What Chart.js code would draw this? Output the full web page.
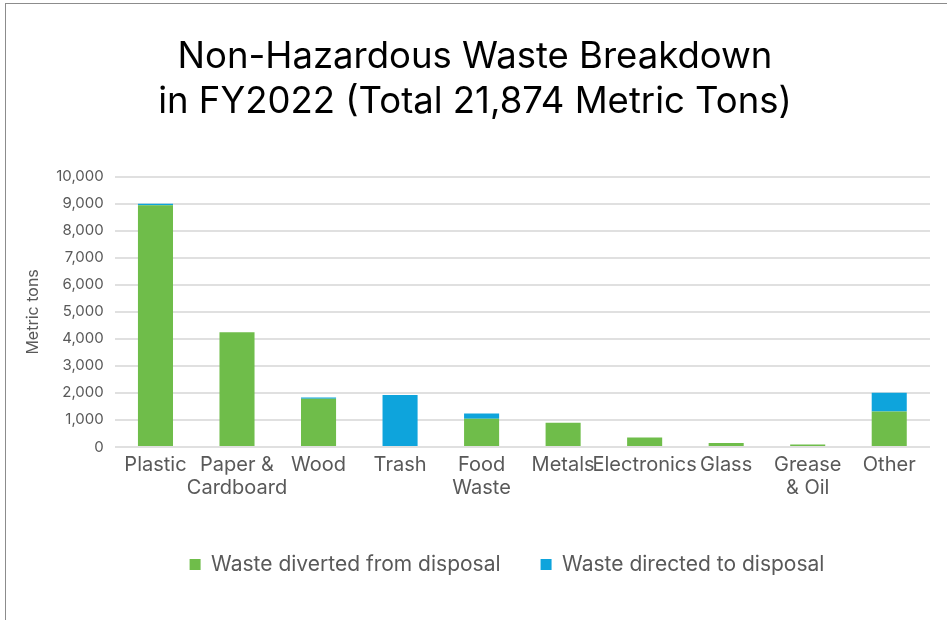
<!DOCTYPE html>
<html>
<head>
<meta charset="utf-8">
<script src="https://cdn.jsdelivr.net/npm/chart.js@4.4.0/dist/chart.umd.min.js"></script>
<style>
	body { margin: 0; background: #fff; }
	#wrap { position: relative; width: 947px; height: 620px; }
	#frame { position: absolute; left: 5px; top: 3px; right: 0; bottom: 0; border-left: 1px solid #8c8c8c; border-top: 1px solid #8c8c8c; pointer-events: none; }
</style>
</head>
<body>
<div id="wrap">
	<canvas id="chart-area" width="947" height="620"></canvas>
	<div id="frame"></div>
</div>
<script>
	// values (metric tons)
	var categories = ['Plastic', ['Paper &', 'Cardboard'], 'Wood', 'Trash', ['Food', 'Waste'], 'Metals', 'Electronics', 'Glass', ['Grease', '& Oil'], 'Other'];
	var diverted = [8950, 4250, 1790, 0, 1050, 900, 350, 150, 90, 1310];
	var directed = [50, 0, 40, 1920, 190, 0, 0, 0, 0, 700];
	var seriesNames = ['Waste diverted from disposal', 'Waste directed to disposal'];
	var titleLines = ['Non-Hazardous Waste Breakdown', 'in FY2022 (Total 21,874 Metric Tons)'];

	var green = '#6fbd4a';
	var blue = '#0ea4dc';
	var grey = '#595959';
	var font = "Inter, 'Liberation Sans', Arial, sans-serif";

	// the legend sits a bit right of the canvas centre in the original
	var legendShift = {
		id: 'legendShift',
		afterLayout: function(chart) {
			chart.legend.left += 32;
			chart.legend.right += 32;
		}
	};

	var config = {
		type: 'bar',
		data: {
			labels: categories,
			datasets: [{
				label: seriesNames[0],
				data: diverted,
				backgroundColor: green,
				borderWidth: 0
			}, {
				label: seriesNames[1],
				data: directed,
				backgroundColor: blue,
				borderWidth: 0
			}]
		},
		options: {
			responsive: false,
			animation: false,
			layout: {
				padding: { left: 20, right: 17, top: 0, bottom: 35 }
			},
			datasets: {
				bar: { barPercentage: 0.43, categoryPercentage: 1 }
			},
			plugins: {
				title: {
					display: true,
					text: titleLines,
					color: '#000',
					font: { family: font, size: 36.5, weight: 'normal', lineHeight: 1.23 },
					padding: { top: 35, bottom: 52 }
				},
				legend: {
					position: 'bottom',
					labels: {
						color: grey,
						font: { family: font, size: 21 },
						boxWidth: 11,
						boxHeight: 11,
						padding: 40
					}
				},
				tooltip: { enabled: false }
			},
			scales: {
				x: {
					stacked: true,
					grid: { display: false, drawTicks: false },
					border: { display: false },
					ticks: {
						color: grey,
						font: { family: font, size: 20, lineHeight: 1.15 },
						padding: 6,
						maxRotation: 0,
						autoSkip: false
					},
					afterFit: function(axis) {
						axis.height = 67;
					}
				},
				y: {
					stacked: true,
					min: 0,
					max: 10000,
					grid: { color: '#e0e0e0', lineWidth: 2, drawTicks: false },
					border: { display: false },
					ticks: {
						stepSize: 1000,
						color: grey,
						padding: 11,
						font: { family: font, size: 15 },
						callback: function(v) { return v.toLocaleString('en-US'); }
					},
					title: {
						display: true,
						text: 'Metric tons',
						color: grey,
						font: { family: font, size: 16 },
						padding: { top: 4, bottom: 2 }
					}
				}
			}
		},
		plugins: [legendShift]
	};

	var ctx = document.getElementById('chart-area').getContext('2d');
	window.wasteChart = new Chart(ctx, config);
</script>
</body>
</html>
